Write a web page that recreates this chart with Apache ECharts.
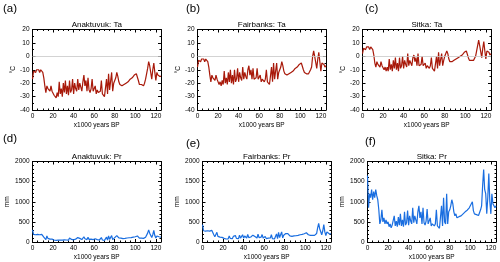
<!DOCTYPE html>
<html><head><meta charset="utf-8">
<script src="https://cdn.jsdelivr.net/npm/echarts@6/dist/echarts.min.js"></script>
<style>html,body{margin:0;padding:0;background:#fff}#c{width:500px;height:262px}</style>
</head><body><div id="c"></div>
<script>
const ages = [0,1,2,3,4,5,6,7,8,9,10,11,12,13,14,15,16,17,18,19,20,21,22,23,24,25,26,27,28,29,30,31,32,33,34,35,36,37,38,39,40,41,42,43,44,45,46,47,48,49,50,51,52,53,54,55,56,57,58,59,60,61,62,63,64,65,66,67,68,69,70,71,72,73,74,75,76,77,78,79,80,81,82,83,84,85,86,87,88,89,90,91,92,93,94,95,96,97,98,99,100,101,102,103,104,105,106,107,108,109,110,111,112,113,114,115,116,117,118,119,120,121,122,123,124,125];
const taAnaktuvuk = [-17,-11,-10,-12,-10,-11,-10,-12,-10,-11,-12,-16,-22,-27,-22,-24,-23,-26,-22,-26,-25,-29,-28,-31,-27,-30,-19,-28,-24,-30,-20,-27,-18,-28,-22,-29,-18,-27,-25,-17,-28,-20,-24,-26,-17,-25,-20,-23,-26,-19,-14,-22,-18,-26,-16,-25,-27,-24,-17,-26,-27,-22,-28,-25,-27,-28,-26,-18,-28,-27,-30,-29,-17,-28,-13,-25,-26,-12,-26,-20,-18,-16,-12,-15,-19,-21,-20,-22,-22,-21,-21,-20,-19,-19,-18,-17,-17,-16,-15,-14,-14,-13,-13,-18,-21,-20,-21,-20,-22,-20,-17,-16,-9,-4,-7,-8,-17,-10,-5,-12,-18,-12,-14,-13,-15,-15];
const taFairbanks = [-8,-3,-2,-4,-2,-3,-2,-4,-2,-3,-4,-8,-14,-19,-14,-16,-15,-18,-14,-17,-17,-21,-19,-22,-18,-21,-11,-20,-16,-21,-12,-19,-10,-20,-14,-21,-10,-19,-17,-9,-19,-12,-16,-18,-8,-17,-12,-15,-17,-10,-7,-14,-10,-17,-9,-17,-18,-16,-9,-17,-18,-14,-19,-17,-18,-19,-17,-10,-19,-18,-21,-20,-8,-19,-5,-17,-18,-5,-17,-12,-10,-8,-4,-7,-11,-13,-12,-14,-14,-13,-13,-12,-11,-11,-10,-9,-9,-8,-7,-6,-6,-5,-5,-10,-12,-12,-13,-12,-13,-12,-10,-8,0,4,0,-1,-9,-2,3,-4,-11,-5,-6,-6,-8,-7];
const taSitka = [2,6,7,5,7,6,7,5,7,6,5,1,-5,-8,-4,-6,-5,-8,-4,-7,-7,-10,-8,-11,-8,-11,-2,-10,-6,-11,-3,-9,-1,-10,-5,-11,-1,-9,-7,0,-9,-3,-6,-8,2,-7,-3,-5,-7,-1,1,-4,-1,-7,2,-7,-8,-6,0,-7,-8,-5,-9,-7,-8,-9,-7,-1,-9,-8,-11,-10,0,-9,3,-7,-8,2,-7,-3,0,1,4,2,-2,-4,-3,-4,-4,-3,-3,-2,-1,-1,0,0,1,1,2,3,3,4,4,-1,-3,-2,-3,-2,-3,-2,0,1,8,12,8,7,-1,6,11,4,-2,4,3,3,1,2];
const prAnaktuvuk = [300,190,210,180,200,190,210,180,200,190,170,120,80,60,150,90,100,70,90,70,80,50,60,40,60,45,90,50,70,45,85,55,95,50,75,45,100,55,65,105,55,90,70,60,110,65,90,75,60,100,130,80,100,60,115,65,55,70,110,60,55,80,50,60,55,50,60,110,50,55,40,45,120,50,150,65,60,160,60,100,110,130,160,130,100,90,95,85,85,90,90,95,100,100,105,110,110,115,120,125,130,140,150,110,95,100,95,100,90,100,120,130,220,300,220,200,110,180,290,160,100,150,140,130,120,120];
const prFairbanks = [430,280,310,270,300,280,310,270,300,290,260,180,130,110,240,140,160,120,150,115,120,90,100,75,95,80,150,90,120,80,140,95,160,90,125,80,170,95,110,180,95,150,120,100,190,110,150,125,100,170,210,135,170,100,195,110,95,120,185,100,95,135,85,100,95,85,100,180,85,95,75,80,200,85,240,110,100,250,100,170,185,210,250,210,170,150,160,140,140,150,150,155,165,165,170,180,180,190,195,205,215,230,250,180,160,165,155,165,150,165,190,210,350,460,330,300,180,280,430,250,160,250,230,210,190,200];
const prSitka = [1650,850,1200,1100,1300,1050,1250,1100,1300,1150,1050,800,450,550,800,500,600,450,550,450,500,380,450,350,420,380,650,400,520,380,620,420,700,400,550,380,750,420,480,780,420,650,520,450,850,480,650,550,450,750,900,600,750,450,850,480,420,520,820,450,420,600,400,450,420,400,450,800,400,420,340,360,900,400,1100,500,450,1200,450,750,800,900,1050,950,750,650,700,600,600,630,620,650,680,700,720,750,760,790,820,850,880,950,1000,780,700,720,680,720,660,700,800,900,1400,1800,1300,1200,700,1100,1700,1000,700,1200,950,900,850,900];
const xTicks = [0,20,40,60,80,100,120];
const taTicks = [20,10,0,-10,-20,-30,-40];
const prTicks = [2000,1500,1000,500,0];
const panels = [
  {label:'(a)', title:'Anaktuvuk: Ta', vals:taAnaktuvuk, kind:'ta'},
  {label:'(b)', title:'Fairbanks: Ta', vals:taFairbanks, kind:'ta'},
  {label:'(c)', title:'Sitka: Ta', vals:taSitka, kind:'ta'},
  {label:'(d)', title:'Anaktuvuk: Pr', vals:prAnaktuvuk, kind:'pr'},
  {label:'(e)', title:'Fairbanks: Pr', vals:prFairbanks, kind:'pr'},
  {label:'(f)', title:'Sitka: Pr', vals:prSitka, kind:'pr'}
];
// layout (pixels)
const boxes = [
  {l:32.5,t:29.5,w:128.5,h:80.5, lx:3, ly:9},
  {l:197.5,t:29.5,w:128.5,h:80.5, lx:186, ly:9},
  {l:362.5,t:29.5,w:128.5,h:80.5, lx:365, ly:9},
  {l:32.5,t:161.5,w:128.5,h:80.5, lx:3, ly:139},
  {l:202.5,t:161.5,w:128.5,h:80.5, lx:186, ly:144},
  {l:367.5,t:161.5,w:128.5,h:80.5, lx:365, ly:142}
];
const FONT = 'Liberation Sans';
const grid=[], xAxis=[], yAxis=[], series=[], graphic=[];
const lineStyle = {color:'#000', width:1};
const fmt = v => String(v);
panels.forEach((p,i)=>{
  const b = boxes[i];
  grid.push({left:b.l, top:b.t, width:b.w, height:b.h, containLabel:false});
  const isTa = p.kind==='ta';
  const ymin = isTa ? taTicks[taTicks.length-1] : prTicks[prTicks.length-1];
  const ymax = isTa ? taTicks[0] : prTicks[0];
  const yint = isTa ? 10 : 500;
  const common = {type:'value', gridIndex:i, splitLine:{show:false},
    axisLine:{show:true, onZero:false, lineStyle}, axisTick:{inside:true, length:3, lineStyle}};
  xAxis.push(Object.assign({}, common, {position:'bottom', min:0, max:125, interval:20,
    axisLabel:{fontSize:6.5, fontFamily:FONT, color:'#000', margin:3, showMaxLabel:false, formatter:fmt},
    minorTick:{show:true, splitNumber:4, length:1.5, lineStyle},
    name:'x1000 years BP', nameLocation:'middle', nameGap:12,
    nameTextStyle:{fontSize:6.5, fontFamily:FONT, color:'#000'}}));
  xAxis.push(Object.assign({}, common, {position:'top', min:0, max:125, interval:20,
    axisLabel:{show:false}, minorTick:{show:true, splitNumber:4, length:1.5, lineStyle}}));
  yAxis.push(Object.assign({}, common, {position:'left', min:ymin, max:ymax, interval:yint,
    axisLabel:{fontSize:6.5, fontFamily:FONT, color:'#000', margin:3, formatter:fmt},
    minorTick:{show:true, splitNumber:isTa?2:5, length:1.5, lineStyle},
    name:isTa?'°C':'mm', nameLocation:'middle', nameGap:isTa?14:19,
    nameTextStyle:{fontSize:6.5, fontFamily:FONT, color:'#000'}}));
  yAxis.push(Object.assign({}, common, {position:'right', min:ymin, max:ymax, interval:yint,
    axisLabel:{show:false}, minorTick:{show:true, splitNumber:isTa?2:5, length:1.5, lineStyle}}));
  const s = {type:'line', xAxisIndex:2*i, yAxisIndex:2*i, showSymbol:false, symbol:'none',
    silent:true, animation:false, clip:true,
    data: ages.map((a,k)=>[a, p.vals[k]]),
    lineStyle:{color: isTa ? '#a8190a' : '#1a6ee0', width:1.2, opacity:1}};
  if (isTa) s.markLine = {silent:true, symbol:'none', label:{show:false},
    lineStyle:{color:'#c8c8c8', width:0.8, type:'solid'}, data:[{yAxis:0}], animation:false};
  series.push(s);
  graphic.push({type:'text', left:b.lx, top:b.ly-6, style:{text:p.label, fontSize:11.5, fontFamily:FONT, fill:'#000'}});
  graphic.push({type:'text', x:b.l + b.w/2, y:b.t-5, style:{text:p.title, fontSize:8, fontFamily:FONT, fill:'#000', textAlign:'center', textVerticalAlign:'middle'}});
});
const chart = echarts.init(document.getElementById('c'), null, {renderer:'canvas'});
chart.setOption({animation:false, backgroundColor:'#fff', grid, xAxis, yAxis, series, graphic});
</script></body></html>
